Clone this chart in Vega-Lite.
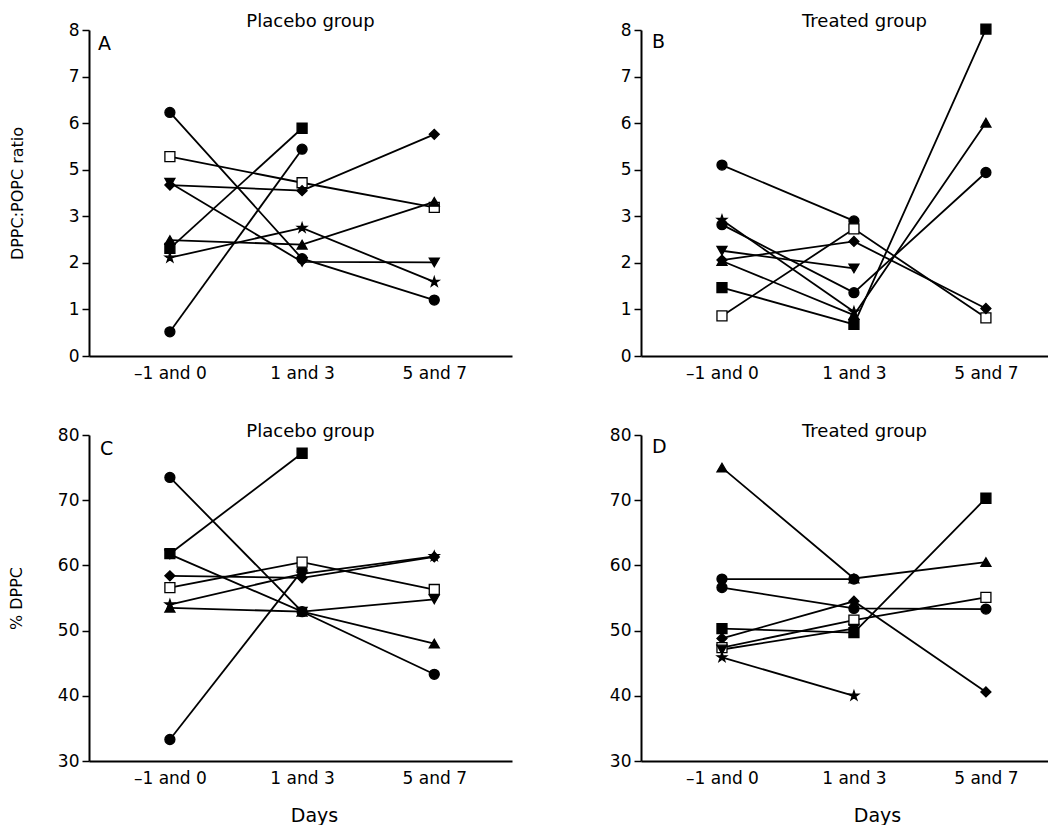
{
  "$schema": "https://vega.github.io/schema/vega-lite/v6.json",
  "background": "white",
  "padding": {"left": 8, "top": 13, "right": 0, "bottom": 0},
  "datasets": {
    "pts": [
      {"panel": "A", "subject": "A1", "marker": "circle", "day": "–1 and 0", "value": 6.23},
      {"panel": "A", "subject": "A1", "marker": "circle", "day": "1 and 3", "value": 2.09},
      {"panel": "A", "subject": "A1", "marker": "circle", "day": "5 and 7", "value": 1.2},
      {"panel": "A", "subject": "A2", "marker": "circle", "day": "–1 and 0", "value": 0.52},
      {"panel": "A", "subject": "A2", "marker": "circle", "day": "1 and 3", "value": 5.44},
      {"panel": "A", "subject": "A3", "marker": "open square", "day": "–1 and 0", "value": 5.28},
      {"panel": "A", "subject": "A3", "marker": "open square", "day": "1 and 3", "value": 4.44},
      {"panel": "A", "subject": "A3", "marker": "open square", "day": "5 and 7", "value": 3.38},
      {"panel": "A", "subject": "A4", "marker": "square", "day": "–1 and 0", "value": 2.31},
      {"panel": "A", "subject": "A4", "marker": "square", "day": "1 and 3", "value": 5.89},
      {"panel": "A", "subject": "A5", "marker": "diamond", "day": "–1 and 0", "value": 4.34},
      {"panel": "A", "subject": "A5", "marker": "diamond", "day": "1 and 3", "value": 4.1},
      {"panel": "A", "subject": "A5", "marker": "diamond", "day": "5 and 7", "value": 5.76},
      {"panel": "A", "subject": "A6", "marker": "triangle-down", "day": "–1 and 0", "value": 4.44},
      {"panel": "A", "subject": "A6", "marker": "triangle-down", "day": "1 and 3", "value": 2.02},
      {"panel": "A", "subject": "A6", "marker": "triangle-down", "day": "5 and 7", "value": 2.01},
      {"panel": "A", "subject": "A7", "marker": "triangle-up", "day": "–1 and 0", "value": 2.49},
      {"panel": "A", "subject": "A7", "marker": "triangle-up", "day": "1 and 3", "value": 2.39},
      {"panel": "A", "subject": "A7", "marker": "triangle-up", "day": "5 and 7", "value": 3.62},
      {"panel": "A", "subject": "A8", "marker": "star", "day": "–1 and 0", "value": 2.11},
      {"panel": "A", "subject": "A8", "marker": "star", "day": "1 and 3", "value": 2.75},
      {"panel": "A", "subject": "A8", "marker": "star", "day": "5 and 7", "value": 1.59},

      {"panel": "B", "subject": "B1", "marker": "circle", "day": "–1 and 0", "value": 5.1},
      {"panel": "B", "subject": "B1", "marker": "circle", "day": "1 and 3", "value": 2.9},
      {"panel": "B", "subject": "B2", "marker": "circle", "day": "–1 and 0", "value": 2.82},
      {"panel": "B", "subject": "B2", "marker": "circle", "day": "1 and 3", "value": 1.36},
      {"panel": "B", "subject": "B2", "marker": "circle", "day": "5 and 7", "value": 4.88},
      {"panel": "B", "subject": "B3", "marker": "open square", "day": "–1 and 0", "value": 0.86},
      {"panel": "B", "subject": "B3", "marker": "open square", "day": "1 and 3", "value": 2.73},
      {"panel": "B", "subject": "B3", "marker": "open square", "day": "5 and 7", "value": 0.82},
      {"panel": "B", "subject": "B4", "marker": "square", "day": "–1 and 0", "value": 1.47},
      {"panel": "B", "subject": "B4", "marker": "square", "day": "1 and 3", "value": 0.68},
      {"panel": "B", "subject": "B4", "marker": "square", "day": "5 and 7", "value": 8.02},
      {"panel": "B", "subject": "B5", "marker": "diamond", "day": "–1 and 0", "value": 2.06},
      {"panel": "B", "subject": "B5", "marker": "diamond", "day": "1 and 3", "value": 2.46},
      {"panel": "B", "subject": "B5", "marker": "diamond", "day": "5 and 7", "value": 1.02},
      {"panel": "B", "subject": "B6", "marker": "triangle-down", "day": "–1 and 0", "value": 2.26},
      {"panel": "B", "subject": "B6", "marker": "triangle-down", "day": "1 and 3", "value": 1.88},
      {"panel": "B", "subject": "B7", "marker": "triangle-up", "day": "–1 and 0", "value": 2.04},
      {"panel": "B", "subject": "B7", "marker": "triangle-up", "day": "1 and 3", "value": 0.88},
      {"panel": "B", "subject": "B7", "marker": "triangle-up", "day": "5 and 7", "value": 6.01},
      {"panel": "B", "subject": "B8", "marker": "star", "day": "–1 and 0", "value": 2.92},
      {"panel": "B", "subject": "B8", "marker": "star", "day": "1 and 3", "value": 0.95},

      {"panel": "C", "subject": "C1", "marker": "circle", "day": "–1 and 0", "value": 73.5},
      {"panel": "C", "subject": "C1", "marker": "circle", "day": "1 and 3", "value": 52.9},
      {"panel": "C", "subject": "C1", "marker": "circle", "day": "5 and 7", "value": 43.3},
      {"panel": "C", "subject": "C2", "marker": "circle", "day": "–1 and 0", "value": 33.3},
      {"panel": "C", "subject": "C2", "marker": "circle", "day": "1 and 3", "value": 59.2},
      {"panel": "C", "subject": "C3", "marker": "square", "day": "–1 and 0", "value": 61.8},
      {"panel": "C", "subject": "C3", "marker": "square", "day": "1 and 3", "value": 77.2},
      {"panel": "C", "subject": "C4", "marker": "open square", "day": "–1 and 0", "value": 56.6},
      {"panel": "C", "subject": "C4", "marker": "open square", "day": "1 and 3", "value": 60.5},
      {"panel": "C", "subject": "C4", "marker": "open square", "day": "5 and 7", "value": 56.3},
      {"panel": "C", "subject": "C5", "marker": "diamond", "day": "–1 and 0", "value": 58.4},
      {"panel": "C", "subject": "C5", "marker": "diamond", "day": "1 and 3", "value": 58.1},
      {"panel": "C", "subject": "C5", "marker": "diamond", "day": "5 and 7", "value": 61.3},
      {"panel": "C", "subject": "C6", "marker": "triangle-down", "day": "–1 and 0", "value": 61.7},
      {"panel": "C", "subject": "C6", "marker": "triangle-down", "day": "1 and 3", "value": 52.9},
      {"panel": "C", "subject": "C6", "marker": "triangle-down", "day": "5 and 7", "value": 54.8},
      {"panel": "C", "subject": "C7", "marker": "triangle-up", "day": "–1 and 0", "value": 53.5},
      {"panel": "C", "subject": "C7", "marker": "triangle-up", "day": "1 and 3", "value": 52.9},
      {"panel": "C", "subject": "C7", "marker": "triangle-up", "day": "5 and 7", "value": 48.0},
      {"panel": "C", "subject": "C8", "marker": "star", "day": "–1 and 0", "value": 54.0},
      {"panel": "C", "subject": "C8", "marker": "star", "day": "1 and 3", "value": 58.7},
      {"panel": "C", "subject": "C8", "marker": "star", "day": "5 and 7", "value": 61.4},

      {"panel": "D", "subject": "D1", "marker": "triangle-up", "day": "–1 and 0", "value": 75.0},
      {"panel": "D", "subject": "D1", "marker": "triangle-up", "day": "1 and 3", "value": 58.0},
      {"panel": "D", "subject": "D1", "marker": "triangle-up", "day": "5 and 7", "value": 60.5},
      {"panel": "D", "subject": "D2", "marker": "circle", "day": "–1 and 0", "value": 57.9},
      {"panel": "D", "subject": "D2", "marker": "circle", "day": "1 and 3", "value": 57.9},
      {"panel": "D", "subject": "D3", "marker": "circle", "day": "–1 and 0", "value": 56.6},
      {"panel": "D", "subject": "D3", "marker": "circle", "day": "1 and 3", "value": 53.4},
      {"panel": "D", "subject": "D3", "marker": "circle", "day": "5 and 7", "value": 53.3},
      {"panel": "D", "subject": "D4", "marker": "square", "day": "–1 and 0", "value": 50.3},
      {"panel": "D", "subject": "D4", "marker": "square", "day": "1 and 3", "value": 49.7},
      {"panel": "D", "subject": "D4", "marker": "square", "day": "5 and 7", "value": 70.3},
      {"panel": "D", "subject": "D5", "marker": "diamond", "day": "–1 and 0", "value": 48.8},
      {"panel": "D", "subject": "D5", "marker": "diamond", "day": "1 and 3", "value": 54.5},
      {"panel": "D", "subject": "D5", "marker": "diamond", "day": "5 and 7", "value": 40.6},
      {"panel": "D", "subject": "D6", "marker": "open square", "day": "–1 and 0", "value": 47.4},
      {"panel": "D", "subject": "D6", "marker": "open square", "day": "1 and 3", "value": 51.6},
      {"panel": "D", "subject": "D6", "marker": "open square", "day": "5 and 7", "value": 55.1},
      {"panel": "D", "subject": "D7", "marker": "triangle-down", "day": "–1 and 0", "value": 47.1},
      {"panel": "D", "subject": "D7", "marker": "triangle-down", "day": "1 and 3", "value": 50.3},
      {"panel": "D", "subject": "D8", "marker": "star", "day": "–1 and 0", "value": 45.9},
      {"panel": "D", "subject": "D8", "marker": "star", "day": "1 and 3", "value": 40.0}
    ]
  },
  "columns": 2,
  "spacing": {"row": 79, "column": 129},
  "bounds": "flush",
  "concat": [
    {
      "width": 423, "height": 326,
      "title": {"text": "Placebo group", "dx": 10, "offset": -10},
      "data": {"name": "pts"},
      "transform": [{"filter": "datum.panel === 'A'"}],
      "layer": [
        {"mark": {"type": "line", "color": "black", "strokeWidth": 1.8},
         "encoding": {
           "x": {"field": "day", "type": "ordinal", "scale": {"type": "point", "domain": ["–1 and 0", "1 and 3", "5 and 7"], "padding": 0.6, "align": 0.51}, "axis": {"title": null}},
           "y": {"field": "value", "type": "quantitative", "scale": {"domain": [0, 3, 5, 8], "range": [326, 186.29, 139.71, 0], "nice": false, "zero": false}, "axis": {"title": "DPPC:POPC ratio", "values": [0, 1, 2, 3, 5, 6, 7, 8], "titlePadding": 43}},
           "detail": {"field": "subject"}}},
        {"mark": {"type": "point", "filled": true, "size": 100, "stroke": "black", "strokeWidth": 1.3, "opacity": 1},
         "encoding": {
           "x": {"field": "day", "type": "ordinal"},
           "y": {"field": "value", "type": "quantitative"},
           "shape": {"field": "marker", "type": "nominal", "legend": null, "scale": {"domain": ["circle", "square", "open square", "diamond", "triangle-up", "triangle-down", "star"], "range": ["circle", "square", "square", "diamond", "triangle-up", "triangle-down", "M0,-1L0.2245,-0.309L0.951,-0.309L0.363,0.118L0.588,0.809L0,0.382L-0.588,0.809L-0.363,0.118L-0.951,-0.309L-0.2245,-0.309Z"]}},
           "fill": {"field": "marker", "type": "nominal", "legend": null, "scale": {"domain": ["circle", "square", "open square", "diamond", "triangle-up", "triangle-down", "star"], "range": ["black", "black", "white", "black", "black", "black", "black"]}}}},
        {"data": {"values": [{"label": "A"}]},
         "mark": {"type": "text", "align": "left", "baseline": "alphabetic", "dx": -72, "fontSize": 19},
         "encoding": {"x": {"datum": "–1 and 0", "type": "ordinal"}, "y": {"datum": 7.57}, "text": {"field": "label"}}}
      ]
    },
    {
      "width": 407, "height": 326,
      "title": {"text": "Treated group", "dx": 20, "offset": -10},
      "data": {"name": "pts"},
      "transform": [{"filter": "datum.panel === 'B'"}],
      "layer": [
        {"mark": {"type": "line", "color": "black", "strokeWidth": 1.8},
         "encoding": {
           "x": {"field": "day", "type": "ordinal", "scale": {"type": "point", "domain": ["–1 and 0", "1 and 3", "5 and 7"], "padding": 0.542, "align": 0.566}, "axis": {"title": null}},
           "y": {"field": "value", "type": "quantitative", "scale": {"domain": [0, 3, 5, 8], "range": [326, 186.29, 139.71, 0], "nice": false, "zero": false}, "axis": {"title": null, "values": [0, 1, 2, 3, 5, 6, 7, 8]}},
           "detail": {"field": "subject"}}},
        {"mark": {"type": "point", "filled": true, "size": 100, "stroke": "black", "strokeWidth": 1.3, "opacity": 1},
         "encoding": {
           "x": {"field": "day", "type": "ordinal"},
           "y": {"field": "value", "type": "quantitative"},
           "shape": {"field": "marker", "type": "nominal", "legend": null, "scale": {"domain": ["circle", "square", "open square", "diamond", "triangle-up", "triangle-down", "star"], "range": ["circle", "square", "square", "diamond", "triangle-up", "triangle-down", "M0,-1L0.2245,-0.309L0.951,-0.309L0.363,0.118L0.588,0.809L0,0.382L-0.588,0.809L-0.363,0.118L-0.951,-0.309L-0.2245,-0.309Z"]}},
           "fill": {"field": "marker", "type": "nominal", "legend": null, "scale": {"domain": ["circle", "square", "open square", "diamond", "triangle-up", "triangle-down", "star"], "range": ["black", "black", "white", "black", "black", "black", "black"]}}}},
        {"data": {"values": [{"label": "B"}]},
         "mark": {"type": "text", "align": "left", "baseline": "alphabetic", "dx": -70, "fontSize": 19},
         "encoding": {"x": {"datum": "–1 and 0", "type": "ordinal"}, "y": {"datum": 7.62}, "text": {"field": "label"}}}
      ]
    },
    {
      "width": 423, "height": 326,
      "title": {"text": "Placebo group", "dx": 10, "offset": -15},
      "data": {"name": "pts"},
      "transform": [{"filter": "datum.panel === 'C'"}],
      "layer": [
        {"mark": {"type": "line", "color": "black", "strokeWidth": 1.8},
         "encoding": {
           "x": {"field": "day", "type": "ordinal", "scale": {"type": "point", "domain": ["–1 and 0", "1 and 3", "5 and 7"], "padding": 0.6, "align": 0.51}, "axis": {"title": "Days", "titlePadding": 20, "titleX": 225}},
           "y": {"field": "value", "type": "quantitative", "scale": {"domain": [30, 80], "nice": false, "zero": false}, "axis": {"title": "% DPPC", "values": [30, 40, 50, 60, 70, 80], "titlePadding": 33}},
           "detail": {"field": "subject"}}},
        {"mark": {"type": "point", "filled": true, "size": 100, "stroke": "black", "strokeWidth": 1.3, "opacity": 1},
         "encoding": {
           "x": {"field": "day", "type": "ordinal"},
           "y": {"field": "value", "type": "quantitative"},
           "shape": {"field": "marker", "type": "nominal", "legend": null, "scale": {"domain": ["circle", "square", "open square", "diamond", "triangle-up", "triangle-down", "star"], "range": ["circle", "square", "square", "diamond", "triangle-up", "triangle-down", "M0,-1L0.2245,-0.309L0.951,-0.309L0.363,0.118L0.588,0.809L0,0.382L-0.588,0.809L-0.363,0.118L-0.951,-0.309L-0.2245,-0.309Z"]}},
           "fill": {"field": "marker", "type": "nominal", "legend": null, "scale": {"domain": ["circle", "square", "open square", "diamond", "triangle-up", "triangle-down", "star"], "range": ["black", "black", "white", "black", "black", "black", "black"]}}}},
        {"data": {"values": [{"label": "C"}]},
         "mark": {"type": "text", "align": "left", "baseline": "alphabetic", "dx": -70, "fontSize": 19},
         "encoding": {"x": {"datum": "–1 and 0", "type": "ordinal"}, "y": {"datum": 76.9}, "text": {"field": "label"}}}
      ]
    },
    {
      "width": 407, "height": 326,
      "title": {"text": "Treated group", "dx": 20, "offset": -15},
      "data": {"name": "pts"},
      "transform": [{"filter": "datum.panel === 'D'"}],
      "layer": [
        {"mark": {"type": "line", "color": "black", "strokeWidth": 1.8},
         "encoding": {
           "x": {"field": "day", "type": "ordinal", "scale": {"type": "point", "domain": ["–1 and 0", "1 and 3", "5 and 7"], "padding": 0.542, "align": 0.566}, "axis": {"title": "Days", "titlePadding": 20, "titleX": 236}},
           "y": {"field": "value", "type": "quantitative", "scale": {"domain": [30, 80], "nice": false, "zero": false}, "axis": {"title": null, "values": [30, 40, 50, 60, 70, 80]}},
           "detail": {"field": "subject"}}},
        {"mark": {"type": "point", "filled": true, "size": 100, "stroke": "black", "strokeWidth": 1.3, "opacity": 1},
         "encoding": {
           "x": {"field": "day", "type": "ordinal"},
           "y": {"field": "value", "type": "quantitative"},
           "shape": {"field": "marker", "type": "nominal", "legend": null, "scale": {"domain": ["circle", "square", "open square", "diamond", "triangle-up", "triangle-down", "star"], "range": ["circle", "square", "square", "diamond", "triangle-up", "triangle-down", "M0,-1L0.2245,-0.309L0.951,-0.309L0.363,0.118L0.588,0.809L0,0.382L-0.588,0.809L-0.363,0.118L-0.951,-0.309L-0.2245,-0.309Z"]}},
           "fill": {"field": "marker", "type": "nominal", "legend": null, "scale": {"domain": ["circle", "square", "open square", "diamond", "triangle-up", "triangle-down", "star"], "range": ["black", "black", "white", "black", "black", "black", "black"]}}}},
        {"data": {"values": [{"label": "D"}]},
         "mark": {"type": "text", "align": "left", "baseline": "alphabetic", "dx": -70, "fontSize": 19},
         "encoding": {"x": {"datum": "–1 and 0", "type": "ordinal"}, "y": {"datum": 77.2}, "text": {"field": "label"}}}
      ]
    }
  ],
  "config": {
    "font": "DejaVu Sans",
    "view": {"stroke": null},
    "title": {"fontSize": 18, "fontWeight": "normal", "color": "black", "anchor": "middle", "font": "DejaVu Sans"},
    "axis": {"grid": false, "domainColor": "black", "domainWidth": 2, "tickColor": "black", "tickWidth": 1.5, "tickSize": 7, "labelColor": "black", "labelFont": "DejaVu Sans", "labelFontSize": 17, "labelPadding": 3, "titleColor": "black", "titleFont": "DejaVu Sans", "titleFontSize": 16, "titleFontWeight": "normal"},
    "axisX": {"ticks": false, "labelAngle": 0, "labelPadding": 9, "labelFontSize": 17, "titleFontSize": 19},
    "text": {"color": "black", "font": "DejaVu Sans"}
  }
}
